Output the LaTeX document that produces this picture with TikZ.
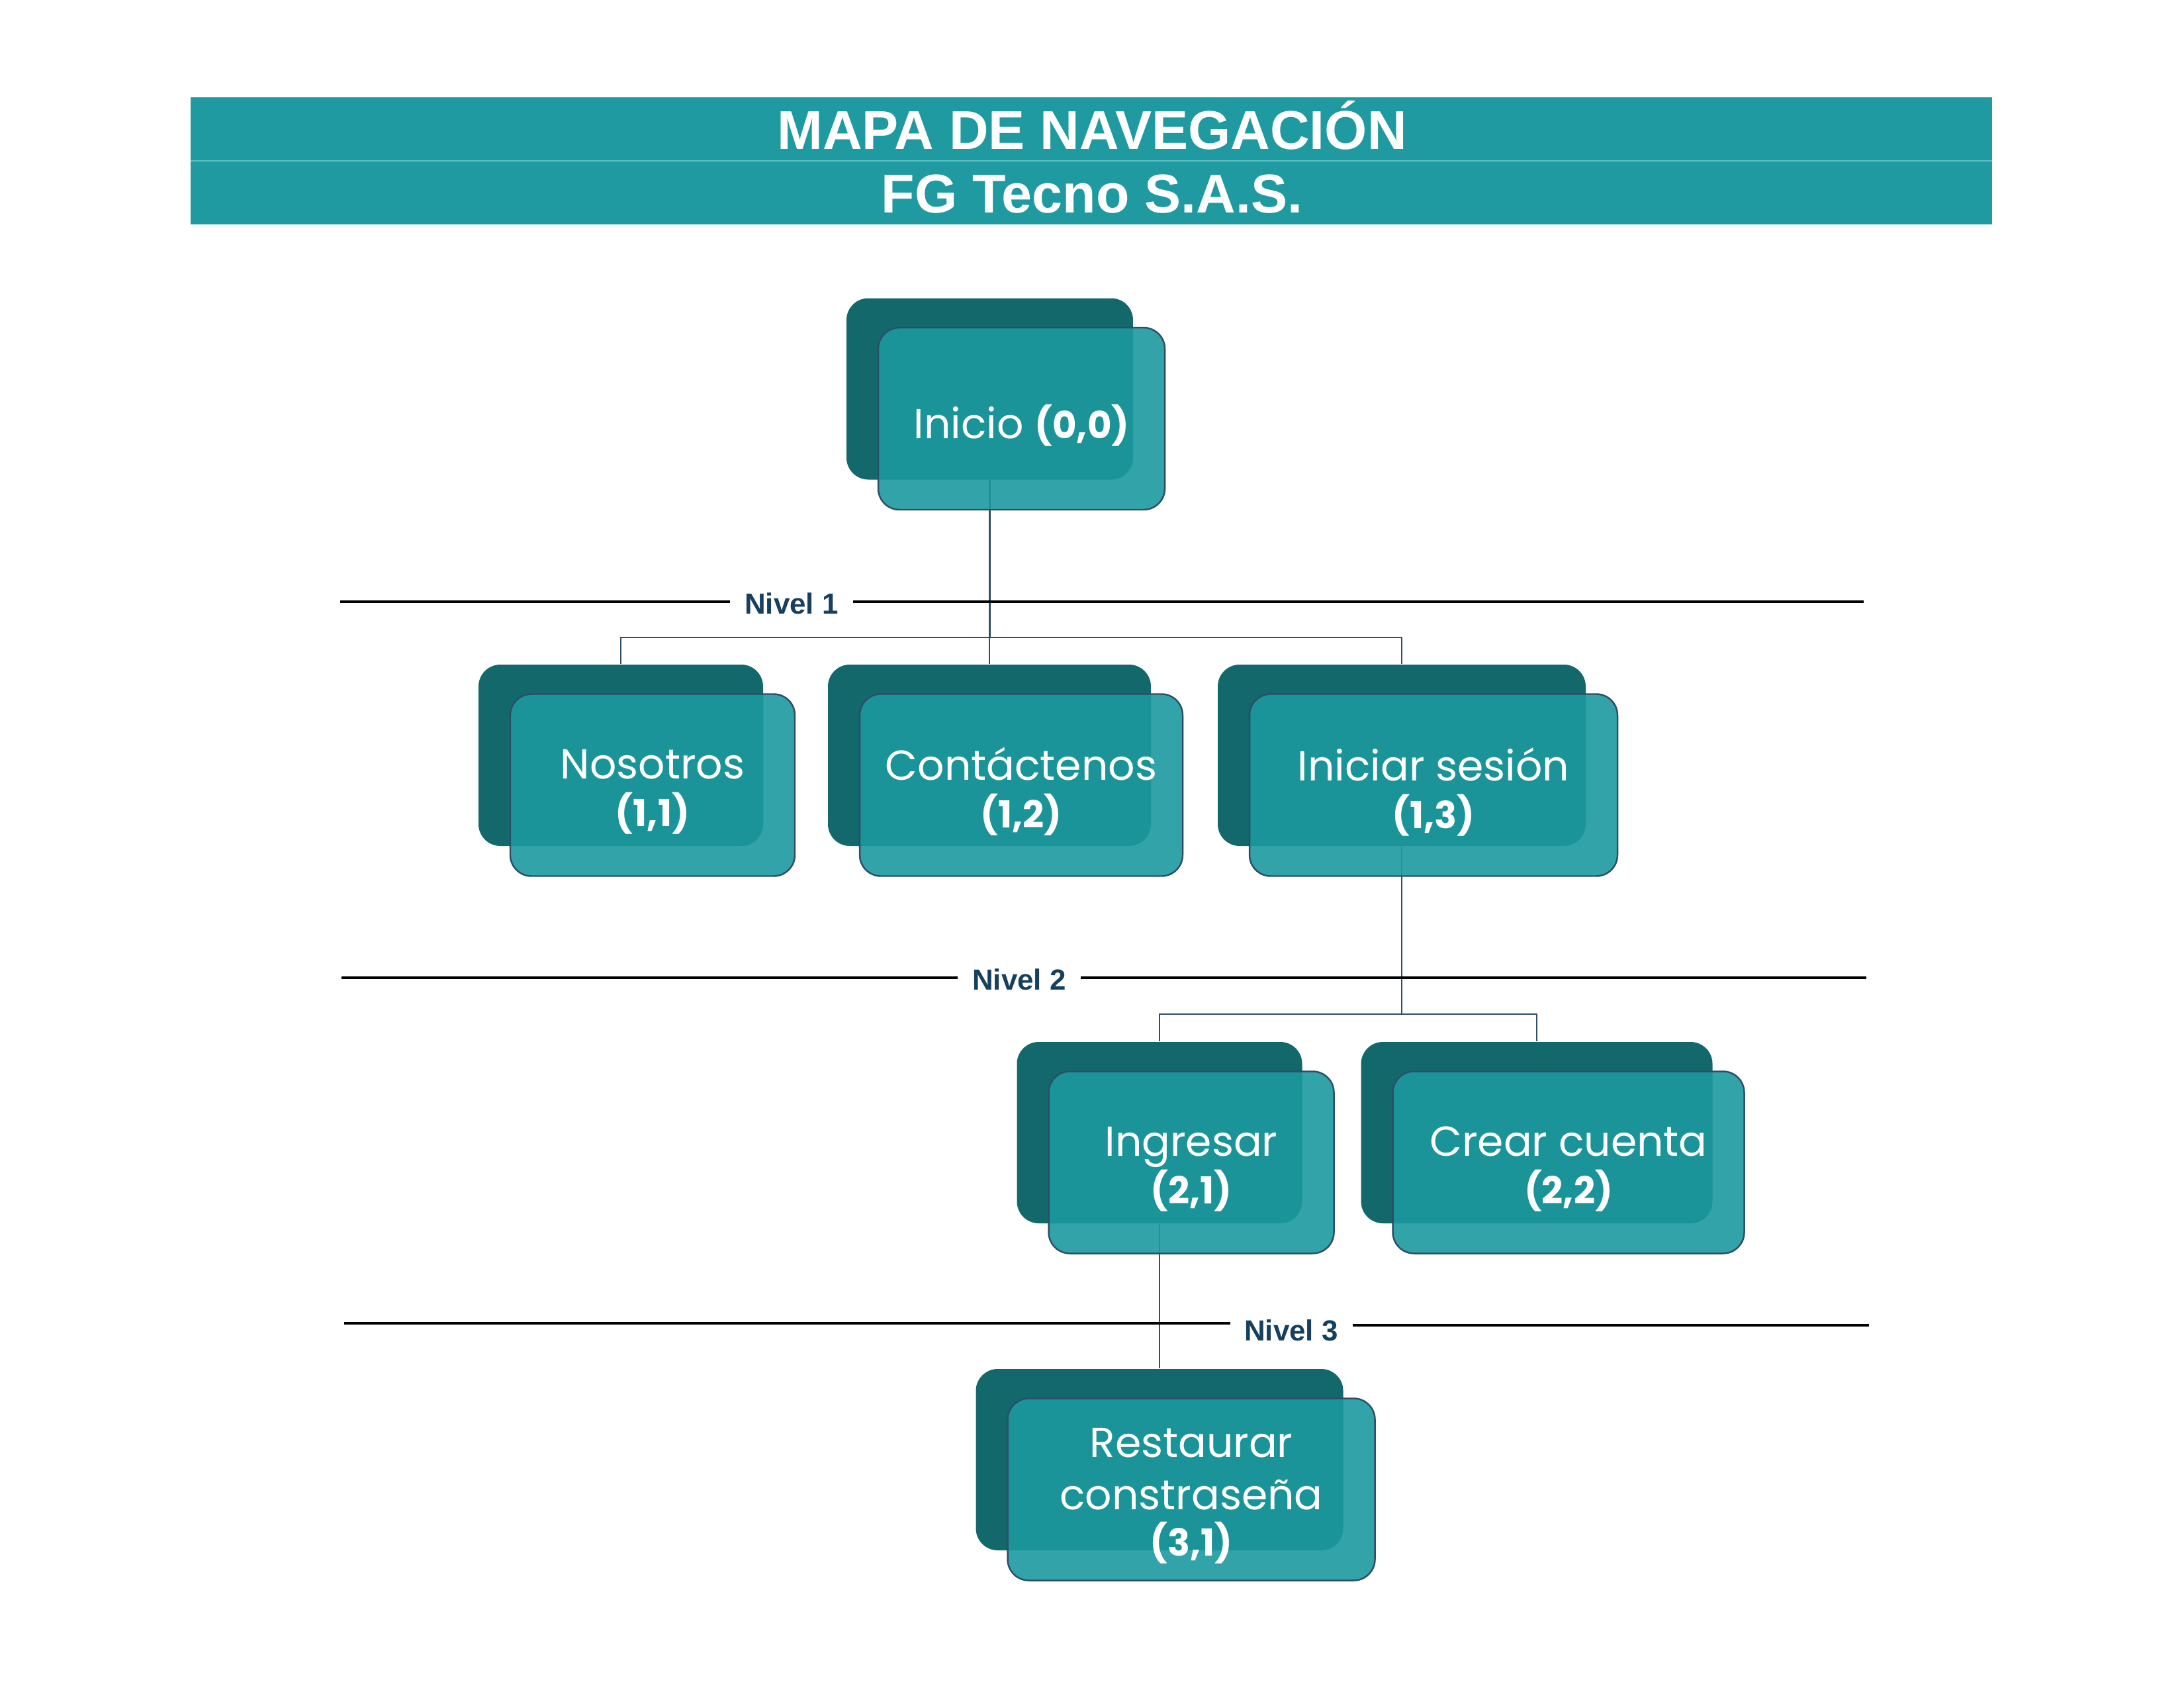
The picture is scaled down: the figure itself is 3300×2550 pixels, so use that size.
\documentclass[tikz,border=0pt]{standalone}
\usepackage{fontspec}
\setmainfont{Liberation Sans}
\newfontfamily\boxfont{Poppins}
\usetikzlibrary{backgrounds}
\definecolor{hdr}{RGB}{31,154,160}
\definecolor{hdrline}{RGB}{92,190,194}
\definecolor{backc}{RGB}{19,104,108}
\definecolor{frontc}{RGB}{28,153,158}
\definecolor{edgec}{RGB}{45,78,104}
\definecolor{nivelc}{RGB}{23,64,95}
\tikzset{
  backbox/.style={fill=backc, rounded corners=3.3mm, minimum height=27.4mm, inner sep=0pt},
  frontbox/.style={fill=frontc, fill opacity=0.9, draw=edgec, line width=0.7pt,
    rounded corners=3.2mm, minimum height=27.5mm, inner sep=0pt},
  boxtext/.style={text=white, align=center, inner sep=0pt, yshift=-1mm,
    font=\boxfont\fontsize{18}{22.5}\selectfont},
  conn/.style={draw=edgec, line width=0.8pt},
  levelline/.style={draw=black, line width=1pt},
  nivel/.style={text=nivelc, font=\bfseries\fontsize{12.5}{15}\selectfont, anchor=base,
    inner xsep=2.1mm, inner ysep=0pt},
  titletext/.style={text=white, font=\bfseries\fontsize{23.5}{28}\selectfont, anchor=base, inner sep=0pt},
}
\newcommand\navpair[5]{%
  \node[backbox, minimum width=0.1mm*#4] (#1B) at (#2,#3) {};
  \node[frontbox, minimum width=0.1mm*#4, label={[boxtext, name=#1T]center:#5}] (#1F) at ({#2+48},{#3+45}) {};
}
\newcommand\coordtxt[1]{{\bfseries\fontsize{16}{18}\selectfont #1}}
\begin{document}
\begin{tikzpicture}[x=0.1mm, y=-0.1mm]
\useasboundingbox (0,0) rectangle (3300,2550);
% header
\fill[hdr] (288,147) rectangle (3010,339);
\draw[hdrline, line width=0.6pt] (288,243) -- (3010,243);
\node[titletext] (t1) at (1650,226) {MAPA DE NAVEGACIÓN};
\node[titletext] (t2) at (1650,322) {FG Tecno S.A.S.};
% boxes
\navpair{ini}{1495.5}{587.5}{433}{Inicio \coordtxt{(0,0)}}
\navpair{nos}{938}{1141}{430}{Nosotros\\[-2pt]\coordtxt{(1,1)}}
\navpair{con}{1495}{1141}{488}{Contáctenos\\[-2pt]\coordtxt{(1,2)}}
\navpair{ses}{2118}{1141}{556}{Iniciar sesión\\[-2pt]\coordtxt{(1,3)}}
\navpair{ing}{1752}{1711}{431}{Ingresar\\[-2pt]\coordtxt{(2,1)}}
\navpair{cre}{2322}{1711}{531}{Crear cuenta\\[-2pt]\coordtxt{(2,2)}}
\navpair{res}{1752}{2205}{555}{Restaurar\\constraseña\\[-2.5pt]\coordtxt{(3,1)}}
% connectors
\begin{pgfonlayer}{background}
\coordinate (bar1) at (0,963);
\coordinate (bar2) at (0,1532);
\draw[conn] (iniB.south) -- (iniB.south |- bar1);
\draw[conn] (nosB.north) |- (bar1 -| sesB.north) -- (sesB.north);
\draw[conn] (conB.north) -- (conB.north |- bar1);
\draw[conn] (sesB.south) -- (sesB.south |- bar2);
\draw[conn] (ingB.north) |- (bar2 -| creB.north) -- (creB.north);
\draw[conn] (ingB.south) -- (resB.north);
\end{pgfonlayer}
% level lines
\node[nivel] (n1) at (1196,927) {Nivel 1};
\coordinate (n1l) at (514,909);
\coordinate (n1r) at (2816,909);
\draw[levelline] (n1l) -- (n1l -| n1.west);
\draw[levelline] (n1r -| n1.east) -- (n1r);
\node[nivel] (n2) at (1540,1495) {Nivel 2};
\coordinate (n2l) at (516,1477);
\coordinate (n2r) at (2820,1477);
\draw[levelline] (n2l) -- (n2l -| n2.west);
\draw[levelline] (n2r -| n2.east) -- (n2r);
\node[nivel] (n3) at (1951,2025) {Nivel 3};
\coordinate (n3l) at (520,1999);
\coordinate (n3r) at (2824,2002);
\draw[levelline] (n3l) -- (n3l -| n3.west);
\draw[levelline] (n3r -| n3.east) -- (n3r);
\end{tikzpicture}
\end{document}
